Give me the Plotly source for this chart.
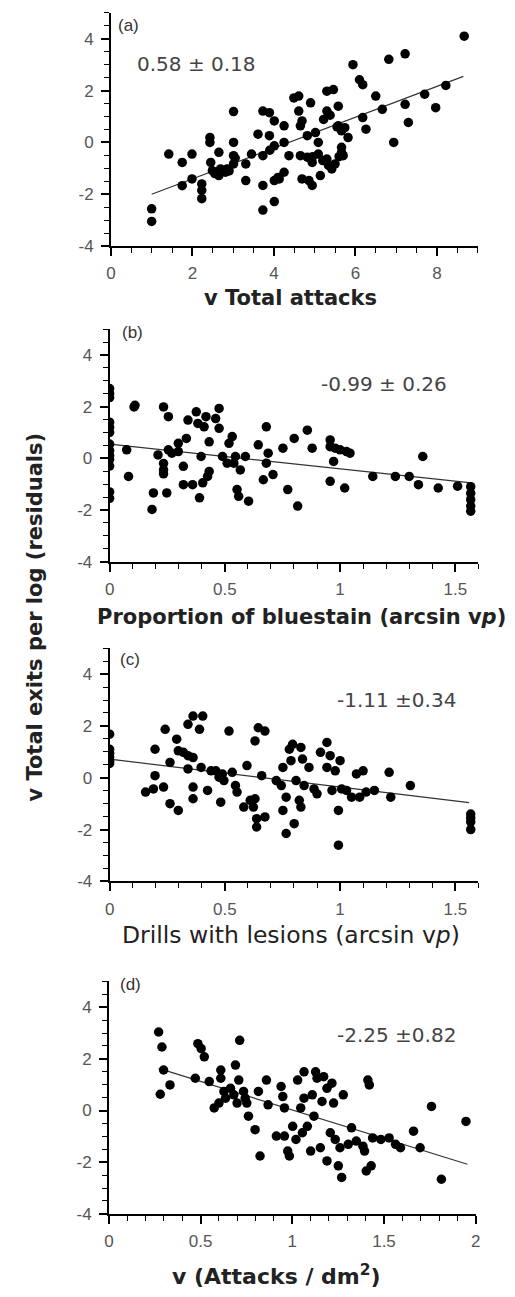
import plotly.graph_objects as go

# ---------------- data ----------------
# Panel (a): sqrt total attacks vs residuals
a_x = [1.0, 1.0, 1.42, 1.75, 1.75, 1.99, 1.99, 2.23, 2.23, 2.23, 2.43, 2.43, 2.45, 2.49, 2.65, 2.65,
       2.69, 2.81, 2.85, 2.9, 2.55, 3.01, 3.01, 3.01, 3.01, 3.05, 3.31, 3.31, 3.45, 3.73, 3.73, 3.73,
       3.61, 3.73, 3.89, 3.89, 3.9, 4.01, 4.01, 4.01, 4.01, 4.1, 4.25, 4.25, 4.25, 4.13, 4.37, 4.49,
       4.61, 4.61, 4.65, 4.69, 4.65, 4.69, 4.82, 4.82, 4.86, 4.9, 4.94, 4.94, 4.95, 5.02, 5.09, 5.09,
       5.14, 5.2, 5.22, 5.3, 5.3, 5.3, 5.34, 5.38, 5.42, 5.46, 5.58, 5.5, 5.55, 5.58, 5.6, 5.66, 5.66,
       5.74, 5.66, 5.82, 5.7, 5.94, 6.1, 6.18, 6.18, 6.26, 6.5, 6.66, 6.82, 6.94, 7.22, 7.22, 7.3,
       7.7, 7.97, 8.22, 8.67]
a_y = [-2.56, -3.05, -0.45, -0.77, -1.67, -0.45, -1.41, -1.6, -1.85, -2.17, 0.19, 0.0, -0.77, -1.09,
       -0.38, -1.28, -1.02, -1.15, -1.02, -1.1, -1.2, 0.0, 1.19, -0.51, -0.83, -0.6, -0.83, -1.47, -0.45,
       -0.51, -1.66, -2.61, 0.32, 1.21, 1.15, 0.26, -0.3, 0.83, -0.13, -1.47, -2.28, -1.35, 0.64, 0.0,
       -1.15, -1.41, -0.51, 1.72, 1.79, 1.21, 0.64, 0.83, -0.51, -1.41, 0.26, -0.57, -1.47, 1.53, -0.77,
       -1.66, -0.55, 0.38, 0.0, -0.45, -1.28, -0.7, 0.89, 1.21, 1.98, -0.64, -0.89, 1.05, -1.02, 2.04,
       1.4, -0.83, 0.6, 0.64, -0.55, -0.38, 0.45, 0.57, -0.19, 0.19, -0.51, 3.0, 2.42, 2.23, 0.96, 0.51,
       1.79, 1.28, 3.21, 0.0, 3.42, 1.47, 0.77, 1.86, 1.34, 2.2, 4.1]
a_fit_x = [1.0, 8.65]
a_fit_y = [-2.0, 2.55]

# Panel (b): proportion of bluestain
b_x = [0, 0, 0, 0, 0, 0, 0, 0, 0, 0, 0, 0, 0,
       0.074, 0.082, 0.106, 0.11, 0.184, 0.19, 0.21, 0.234, 0.234, 0.234, 0.234, 0.248, 0.255, 0.255,
       0.27, 0.298, 0.298, 0.32, 0.32, 0.333, 0.34, 0.36, 0.376, 0.383, 0.39, 0.397, 0.404, 0.41, 0.418,
       0.425, 0.432, 0.432, 0.46, 0.475, 0.475, 0.49, 0.51, 0.518, 0.532, 0.539, 0.546, 0.553, 0.56,
       0.567, 0.589, 0.603, 0.645, 0.667, 0.68, 0.68, 0.688, 0.709, 0.752, 0.773, 0.801, 0.816, 0.858,
       0.879, 0.957, 0.957, 0.972, 0.957, 0.979, 1.0, 1.02, 1.028, 1.043, 1.142, 1.24, 1.30, 1.34,
       1.359, 1.426, 1.51, 1.567, 1.567, 1.567, 1.567, 1.567]
b_y = [2.7, 2.5, 2.35, 1.4, 1.2, 1.0, 0.55, 0.3, 0.1, -0.05, -0.3, -1.3, -1.55,
       0.33, -0.7, 1.99, 2.05, -1.98, -1.34, 0.13, 1.99, -0.2, -0.45, -0.6, -1.34, 1.61, 0.33,
       0.2, 0.26, 0.58, -1.02, -0.31, 0.77, 1.48, -1.02, 1.8, 1.35, -1.53, 0.07, -0.95, 1.22, 1.61,
       -0.7, 0.64, -0.51, 1.54, 1.93, 1.16, 0.07, -0.19, 0.58, 0.84, -0.19, 0.07, -1.21, -1.47,
       -0.45, 0.07, -1.66, 0.52, -0.83, 1.22, -0.19, 0.2, -0.63, 0.39, -1.21, 0.77, -1.85, 1.09,
       0.39, 0.71, 0.45, -0.12, -0.89, 0.39, 0.33, -1.15, 0.26, 0.2, -0.7, -0.7, -0.7, -1.02,
       0.07, -1.15, -1.08, -1.1, -1.35, -1.6, -1.85, -2.05]
b_fit_x = [0.0, 1.57]
b_fit_y = [0.55, -0.95]

# Panel (c): drills with lesions
c_x = [0, 0, 0, 0, 0, 0,
       0.156, 0.19, 0.197, 0.197, 0.234, 0.241, 0.262, 0.262, 0.291, 0.298, 0.298, 0.32, 0.34, 0.34,
       0.34, 0.362, 0.362, 0.362, 0.362, 0.39, 0.404, 0.397, 0.425, 0.44, 0.461, 0.475, 0.482, 0.489,
       0.496, 0.518, 0.532, 0.546, 0.553, 0.582, 0.596, 0.61, 0.624, 0.631, 0.631, 0.638, 0.638, 0.645,
       0.674, 0.674, 0.66, 0.723, 0.745, 0.752, 0.752, 0.766, 0.766, 0.78, 0.787, 0.794, 0.801, 0.809,
       0.823, 0.83, 0.83, 0.837, 0.844, 0.865, 0.887, 0.9, 0.915, 0.943, 0.943, 0.957, 0.965, 0.979,
       0.993, 0.993, 1.0, 1.007, 1.028, 1.05, 1.071, 1.1, 1.085, 1.113, 1.149, 1.213, 1.22, 1.305,
       1.567, 1.567, 1.567, 1.567]
c_y = [1.68, 1.1, 0.95, 0.8, 0.65, 0.55,
       -0.55, -0.43, 0.08, 1.1, -0.36, 1.87, 0.59, -1.0, 1.49, -1.26, 1.04, 0.98, 0.85, 0.34,
       2.06, 2.38, -0.36, -0.81, 0.78, 1.87, 2.38, 0.4, -0.49, 0.27, 0.27, 0.02, -0.94, 0.15,
       -0.11, 1.8, 0.21, -0.3, -0.55, -1.13, 0.47, -0.87, -1.13, 1.42, -0.81, -1.58, -1.9, 1.93,
       1.8, -1.51, 0.08, -0.11, -0.3, 0.4, -1.26, -2.15, -0.75, 1.1, 0.66, 1.29, -1.77, -0.11,
       -0.87, -1.13, 1.17, 0.72, -0.3, 0.4, -0.43, -0.62, 0.98, 1.36, 0.4, 0.85, -0.49, 0.27,
       -1.26, -2.6, 0.66, -0.43, -0.49, -0.75, 0.15, 0.27, -0.75, -0.55, -0.49, 0.21, -0.75, -0.3,
       -1.4, -1.55, -1.7, -2.0]
c_fit_x = [0.0, 1.56]
c_fit_y = [0.72, -0.96]

# Panel (d): sqrt attacks per dm2
d_x = [0.271, 0.289, 0.28, 0.298, 0.333, 0.471, 0.485, 0.503, 0.52, 0.547, 0.574, 0.6, 0.61, 0.61,
       0.627, 0.636, 0.663, 0.681, 0.69, 0.708, 0.713, 0.699, 0.734, 0.743, 0.752, 0.761, 0.797, 0.815,
       0.824, 0.859, 0.868, 0.913, 0.939, 0.948, 0.957, 0.957, 0.975, 0.984, 1.002, 1.02, 1.029, 1.046,
       1.055, 1.064, 1.064, 1.082, 1.1, 1.109, 1.118, 1.127, 1.135, 1.153, 1.162, 1.171, 1.189, 1.189,
       1.207, 1.216, 1.225, 1.234, 1.251, 1.269, 1.26, 1.278, 1.305, 1.323, 1.349, 1.385, 1.394, 1.403,
       1.412, 1.42, 1.43, 1.438, 1.483, 1.528, 1.563, 1.59, 1.661, 1.697, 1.759, 1.813, 1.947]
d_y = [3.04, 2.46, 0.63, 1.57, 0.99, 1.25, 2.59, 2.4, 2.08, 1.12, 0.1, 0.29, 1.57, 1.25,
       0.74, 0.48, 0.86, 0.61, 1.76, 1.18, 2.72, 0.29, 0.74, 0.48, 0.29, -0.22, -0.74, 0.74,
       -1.76, 1.18, 0.22, -0.99, 0.93, 0.54, 0.1, -0.99, -1.57, -1.76, -0.61, -1.12, 1.18, 0.1,
       -0.86, 1.5, 0.48, -0.61, -1.57, 0.61, -0.22, 1.5, 1.25, -1.44, 0.35, 1.31, 0.86, -1.95,
       -0.86, 1.06, 0.29, -1.12, -2.14, -2.59, -1.44, 0.61, -1.31, -0.67, -1.18, -1.38, -1.57, -2.34,
       1.18, 0.99, -2.14, -1.06, -1.12, -1.06, -1.31, -1.44, -0.8, -1.44, 0.16, -2.66, -0.42]
d_fit_x = [0.271, 1.955]
d_fit_y = [1.63, -2.08]

panel_labels = ["(a)", "(b)", "(c)", "(d)"]
slope_texts = ["0.58 ± 0.18", "-0.99 ± 0.26", "-1.11 ±0.34", "-2.25 ±0.82"]
x_titles = ["v Total attacks",
            "Proportion of bluestain (arcsin v<i>p</i>)",
            "Drills with lesions (arcsin v<i>p</i>)",
            "v (Attacks / dm<sup>2</sup>)"]
y_title = "v Total exits per log (residuals)"
y_tickvals = [-4, -2, 0, 2, 4]
y_ticktext = ["-4", "-2", "0", "2", "4"]

# ---------------- layout helpers ----------------
W, H = 515, 1297
def px_x(p):
    return p / W
def px_y(p):
    return 1 - p / H

# pixel geometry of each panel: (x0_px, x1_px, ybottom_px, ytop_px)
geom = [
    (108.0, 482.0, 248.0, 13.0),
    (106.7, 482.7, 566.0, 331.7),
    (106.7, 482.7, 888.3, 653.2),
    (106.0, 480.0, 1223.3, 989.0),
]
x_ranges = [[0, 9], [0, 1.6], [0, 1.6], [0, 2]]
x_dticks = [2, 0.5, 0.5, 0.5]
x_minor = [0.5, 0.1, 0.1, 0.1]

data = [(a_x, a_y, a_fit_x, a_fit_y), (b_x, b_y, b_fit_x, b_fit_y),
        (c_x, c_y, c_fit_x, c_fit_y), (d_x, d_y, d_fit_x, d_fit_y)]

fig = go.Figure()
tick_font = dict(family="Liberation Sans", size=17, color="#555555")

for i, (xs, ys, fx, fy) in enumerate(data):
    xa = "x" if i == 0 else f"x{i+1}"
    ya = "y" if i == 0 else f"y{i+1}"
    fig.add_trace(go.Scatter(x=fx, y=fy, mode="lines", xaxis=xa, yaxis=ya,
                             line=dict(color="#333333", width=1.2), showlegend=False))
    fig.add_trace(go.Scatter(x=xs, y=ys, mode="markers", xaxis=xa, yaxis=ya,
                             marker=dict(color="black", size=9.5, line=dict(width=0)),
                             showlegend=False))
    x0, x1, yb, yt = geom[i]
    xkey = "xaxis" if i == 0 else f"xaxis{i+1}"
    ykey = "yaxis" if i == 0 else f"yaxis{i+1}"
    fig.layout[xkey] = dict(
        domain=[px_x(x0), px_x(x1)], range=x_ranges[i], anchor=ya,
        showgrid=False, zeroline=False, showline=True, linecolor="black", linewidth=1.8,
        ticks="outside", ticklen=8, tickwidth=1.5, tickcolor="black", dtick=x_dticks[i], tick0=0,
        minor=dict(dtick=x_minor[i], ticks="outside", ticklen=5, tickwidth=1.2, tickcolor="black"),
        tickfont=tick_font, ticklabelstandoff=3, fixedrange=True)
    fig.layout[ykey] = dict(
        domain=[px_y(yb), px_y(yt)], range=[-4, 5], anchor=xa,
        showgrid=False, zeroline=False, showline=True, linecolor="black", linewidth=1.8,
        ticks="outside", ticklen=8, tickwidth=1.5, tickcolor="black",
        tickmode="array", tickvals=y_tickvals, ticktext=y_ticktext,
        minor=dict(dtick=0.5, tick0=0, ticks="outside", ticklen=5, tickwidth=1.2, tickcolor="black"),
        tickfont=tick_font, ticklabelstandoff=4, fixedrange=True)

annotations = []
# panel labels
label_pos = [(113, 26), (117, 335), (115, 665), (115, 992)]
for (lx, ly), t in zip(label_pos, panel_labels):
    annotations.append(dict(x=px_x(lx), y=px_y(ly), xref="paper", yref="paper", text=t,
                            showarrow=False, xanchor="left", yanchor="middle",
                            font=dict(family="Liberation Sans", size=17, color="#333333")))
# slope texts
slope_pos = [(133, 64), (320, 387), (337, 705), (337, 1043)]
for (sx, sy), t in zip(slope_pos, slope_texts):
    annotations.append(dict(x=px_x(sx), y=px_y(sy), xref="paper", yref="paper", text=t,
                            showarrow=False, xanchor="left", yanchor="middle",
                            font=dict(family="DejaVu Sans", size=20, color="#444444")))
# x titles
xt_pos = [(291, 300), (302, 622), (292, 942), (277, 1285)]
xt_bold = [True, True, False, True]
xt_size = [21, 21, 23.5, 22]
for (tx, ty), t, b, s in zip(xt_pos, x_titles, xt_bold, xt_size):
    annotations.append(dict(x=px_x(tx), y=px_y(ty), xref="paper", yref="paper",
                            text=f"<b>{t}</b>" if b else t,
                            showarrow=False, xanchor="center", yanchor="middle",
                            font=dict(family="DejaVu Sans", size=s, color="#222222")))
# y title
annotations.append(dict(x=px_x(31), y=px_y(622), xref="paper", yref="paper",
                        text=f"<b>{y_title}</b>", textangle=-90, showarrow=False,
                        xanchor="center", yanchor="middle",
                        font=dict(family="DejaVu Sans", size=21, color="#222222")))

fig.update_layout(width=W, height=H, margin=dict(l=0, r=0, t=0, b=0),
                  paper_bgcolor="white", plot_bgcolor="white", annotations=annotations,
                  showlegend=False)

fig.write_html("out.html", config={"displayModeBar": False})
